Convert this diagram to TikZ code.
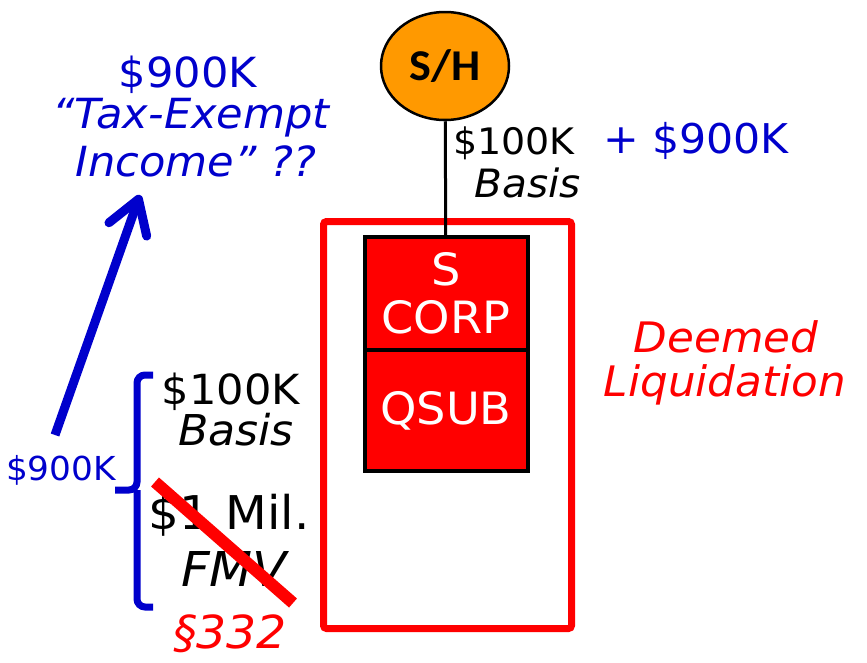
\documentclass[tikz,border=0pt]{standalone}
\usepackage{fontspec}
\setmainfont[FakeStretch=1.04]{DejaVu Sans}
\newfontfamily\shfont[FakeStretch=1.05]{Carlito}
\usetikzlibrary{arrows.meta,shapes.geometric,positioning}
\definecolor{tblue}{RGB}{0,0,204}
\definecolor{tred}{RGB}{255,0,0}
\definecolor{torange}{RGB}{255,153,0}
\newcommand{\fs}[1]{\fontsize{#1}{#1}\selectfont}

\begin{document}
\begin{tikzpicture}[x=1pt, y=-1pt, inner sep=0pt,
    corpbox/.style={draw=black, line width=4pt, fill=tred, outer sep=0pt, minimum width=163pt, text=white, align=center, font=\fs{44.5}}]
    \useasboundingbox (0,0) rectangle (867,662);

    % Liquidacion
    \node (liq) at (447.5,425) [draw=tred, line width=7pt, rounded corners=3pt, minimum width=248pt, minimum height=407pt] {};
    \node (deemed) at (726,337) [text=tred, font=\fs{42}\itshape] {Deemed};
    \node (liqlbl) at (725,385) [text=tred, font=\fs{42}\itshape] {Liquidation};

    % S/H y S Corp
    \node (sh) at (445,66) [ellipse, draw, line width=2.5pt, fill=torange, minimum width=128pt, minimum height=108pt, font=\shfont\bfseries\fs{44}] {S/H};
    \node (scorp) at (446,293.5) [corpbox, minimum height=113pt] {S\\[3pt]CORP};
    \node (qsub) [corpbox, minimum height=121pt, below=0pt of scorp] {QSUB};
    \draw[line width=3pt] (sh) -- (scorp);
    \node (shbasis) at (514,143) [font=\fs{36.5}] {\$100K};
    \node (shplus) at (696,141) [text=tblue, font=\fs{41}] {+ \$900K};
    \node (shbasislbl) at (528,183) [font=\fs{39}\itshape] {Basis};

    % ganancia
    \node (gain) at (188,75) [text=tblue, font=\fs{41.5}] {\$900K};
    \node (taxex) at (191,118) [text=tblue, font=\fs{41.5}\itshape] {“Tax-Exempt};
    \node (income) at (196,161) [text=tblue, font=\fs{41.5}\itshape] {Income” ??};
    \coordinate (arrstart) at (55,435);
    \coordinate (arrtip) at (140,195);
    \draw[tblue, line width=9pt, -{Straight Barb[length=32pt, width=40pt, round]}] (arrstart) -- (arrtip);

    % activos de QSUB
    \node (stbasis) at (231,392) [font=\fs{41.5}] {\$100K};
    \node (stbasislbl) at (236,430) [font=\fs{42.5}\itshape] {Basis};
    \node (fmv) at (229,515) [font=\fs{46.5}] {\$1 Mil.};
    \node (fmvlbl) at (234,569) [font=\fs{48}\itshape] {FMV};
    \node (sec) at (230,634) [text=tred, font=\fs{45.5}\itshape] {§332};
    \node (diff) at (61,470) [text=tblue, font=\fs{33}] {\$900K};
    \coordinate (brtop) at (153,375);
    \coordinate (brbot) at (153,607);
    \coordinate (brmid) at (137,490);
    \coordinate (brtip) at (115,490);
    \draw[tblue, line width=7pt, rounded corners=8pt] (brtop) -| (brmid) -- (brtip);
    \draw[tblue, line width=7pt, rounded corners=8pt] (brbot) -| (brmid);
    \coordinate (strikea) at (155,482);
    \coordinate (strikeb) at (293,603);
    \draw[tred, line width=12pt] (strikea) -- (strikeb);
\end{tikzpicture}
\end{document}
